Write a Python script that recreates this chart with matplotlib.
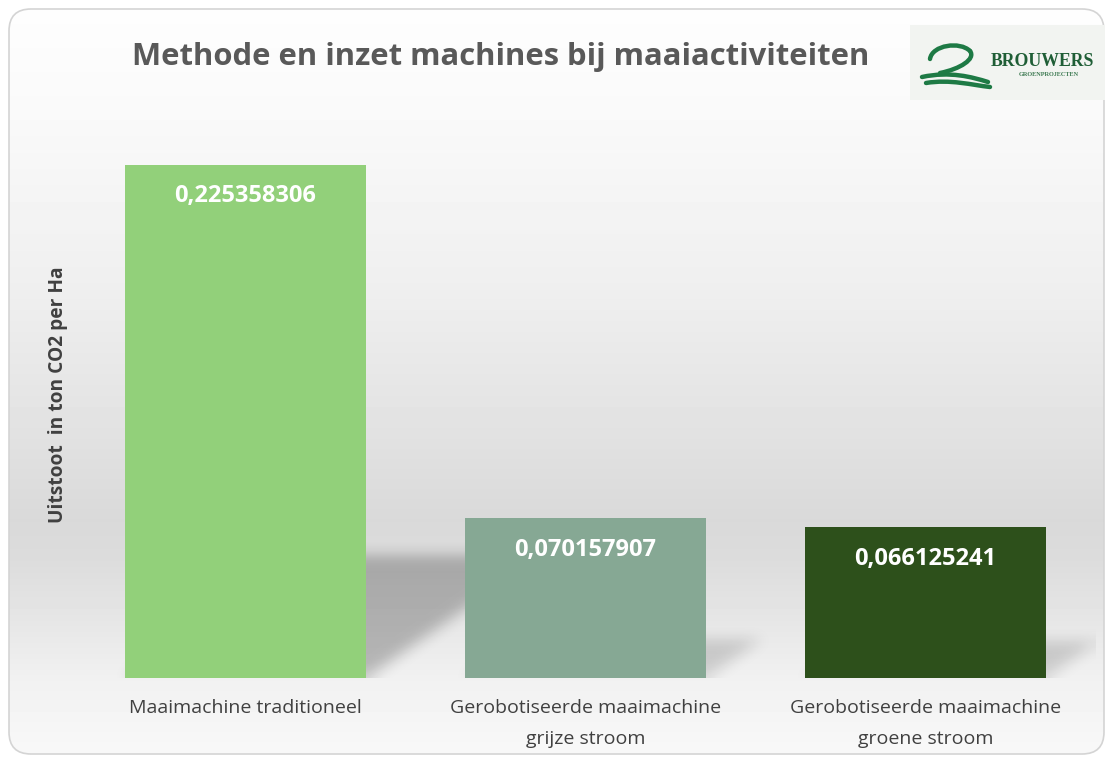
import matplotlib.pyplot as plt
import numpy as np
from matplotlib.patches import FancyBboxPatch, PathPatch
from matplotlib.path import Path

# === Data ===
categories = [
    "Maaimachine traditioneel",
    "Gerobotiseerde maaimachine\ngrijze stroom",
    "Gerobotiseerde maaimachine\ngroene stroom",
]
values = [0.225358306, 0.070157907, 0.066125241]
bar_colors = ["#92d07a", "#86a894", "#2d501b"]

title = "Methode en inzet machines bij maaiactiviteiten"
ylabel = "Uitstoot  in ton CO2 per Ha"

W, H = 1111, 762
plt.rcParams["font.family"] = ["Open Sans", "DejaVu Sans"]

fig = plt.figure(figsize=(W / 100, H / 100), dpi=100)
fig.patch.set_facecolor("white")

# === Background gradient inside rounded frame ===
bg = fig.add_axes([0, 0, 1, 1], zorder=0)
bg.set_xlim(0, W)
bg.set_ylim(H, 0)
bg.axis("off")
py = np.arange(H)
stops_y = [0, 120, 300, 450, 520, 560, 620, 680, 762]
stops_g = [254, 249, 238, 224, 217, 220, 230, 241, 249]
gray = np.interp(py, stops_y, stops_g) / 255.0
grad = np.repeat(gray[:, None], W, axis=1)
frame = FancyBboxPatch((9, 9), W - 16, H - 17,
                       boxstyle="round,pad=0,rounding_size=22",
                       facecolor="none", edgecolor="#d4d4d4", lw=1.2,
                       transform=bg.transData)
img = bg.imshow(grad, cmap="gray", vmin=0, vmax=1, extent=(0, W, H, 0),
                aspect="auto", interpolation="nearest")
img.set_clip_path(frame)
bg.add_patch(frame)

# === Main axes ===
ax = fig.add_axes([75.5 / W, (H - 678) / H, 1020 / W, (678 - 109) / H], zorder=1)
ax.patch.set_alpha(0)
ax.set_xlim(-0.5, 2.5)
ax.set_ylim(0, 0.25)
x = np.arange(len(values))
width = 0.71

# perspective shadows behind bars (blurred raster)
nx, ny = 1020, 569
gx = np.linspace(-0.5, 2.5, nx)
gy = np.linspace(0, 0.25, ny)
GX, GY = np.meshgrid(gx, gy)
pts = np.column_stack([GX.ravel(), GY.ravel()])
mask = np.zeros(GX.size)
for xi, v in zip(x, values):
    L, R = xi - width / 2, xi + width / 2
    dx, dy = v * 2.3, v * 0.24
    poly = Path([(L, 0), (R, 0), (R + dx, dy), (L + dx, dy), (L, 0)])
    inside = poly.contains_points(pts)
    mask = np.maximum(mask, inside * (0.24 if v > 0.1 else 0.15))
mask = mask.reshape(ny, nx)


def box_blur(a, k, axis):
    c = np.cumsum(np.pad(a, [(k, k) if i == axis else (0, 0) for i in range(2)],
                         mode="edge"), axis=axis)
    c = np.insert(c, 0, 0, axis=axis)
    n = a.shape[axis]
    hi = np.take(c, np.arange(2 * k + 1, 2 * k + 1 + n), axis=axis)
    lo = np.take(c, np.arange(0, n), axis=axis)
    return (hi - lo) / (2 * k + 1)


for _ in range(3):
    mask = box_blur(mask, 7, 1)
    mask = box_blur(mask, 6, 0)
shadow = np.zeros((ny, nx, 4))
shadow[..., 3] = mask
ax.imshow(shadow, extent=(-0.5, 2.5, 0, 0.25), origin="lower",
          aspect="auto", zorder=1, interpolation="nearest")

bars = ax.bar(x, values, width=width, color=bar_colors, zorder=2,
              edgecolor="none")

for xi, v in zip(x, values):
    ax.annotate(f"{v:.9f}".replace(".", ","), xy=(xi, v), xytext=(0, -22.5),
                textcoords="offset points", ha="center", va="center",
                color="white", fontsize=17, fontweight="bold", zorder=3)

ax.set_xticks(x)
ax.set_xticklabels(categories, fontsize=14, color="#404040", linespacing=1.95,
                   va="top")
ax.tick_params(axis="x", length=0, pad=15)
ax.set_yticks([])
for s in ax.spines.values():
    s.set_visible(False)

fig.text(501 / W, (H - 57) / H, title, ha="center", va="center",
         fontsize=22.3, fontweight="bold", color="#595959")
fig.text(58 / W, (H - 395) / H, ylabel, rotation=90, ha="center", va="center",
         fontsize=13.8, fontweight="bold", color="#404040")

# === Logo ===
lg = fig.add_axes([910 / W, (H - 100) / H, 195 / W, 75 / H], zorder=2)
lg.set_xlim(0, 195)
lg.set_ylim(75, 0)
lg.axis("off")
lg.add_patch(plt.Rectangle((0, 0), 195, 75, facecolor="#f2f4f1",
                           edgecolor="none"))
green = "#1e7a45"
swoosh = [
    [(20, 34), (22, 20), (50, 16), (60, 26)],
    [(60, 26), (66, 34), (50, 44), (30, 48)],
    [(12, 52), (40, 46), (62, 52), (78, 57)],
    [(16, 58), (40, 54), (62, 60), (80, 62)],
]
for seg in swoosh:
    p = Path(seg, [Path.MOVETO, Path.CURVE4, Path.CURVE4, Path.CURVE4])
    lg.add_patch(PathPatch(p, facecolor="none", edgecolor=green, lw=3.2,
                           capstyle="round"))
lg.text(132, 36, "BROUWERS", ha="center", va="center", color="#1f5e36",
        fontsize=12.8, fontweight="bold", family="Liberation Serif")
lg.text(139, 49, "GROENPROJECTEN", ha="center", va="center", color="#3d7a52",
        fontsize=4.5, fontweight="bold", family="Liberation Serif")

fig.savefig("out.png", dpi=100)
